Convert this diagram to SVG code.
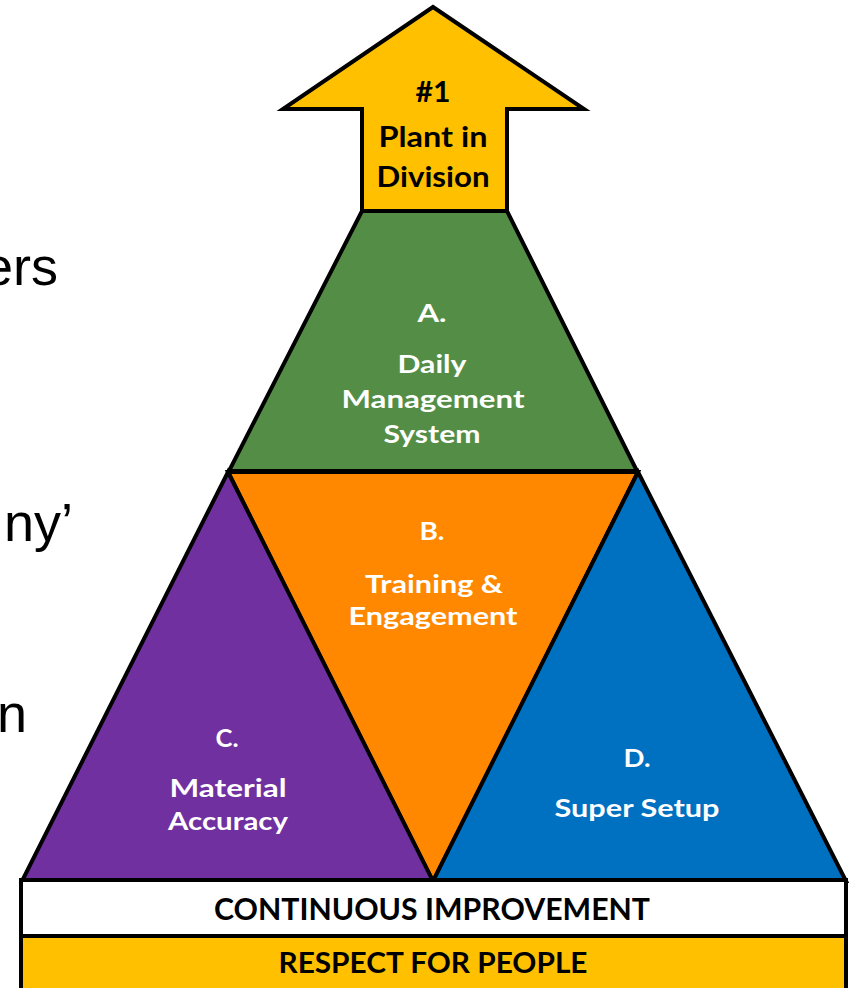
<svg xmlns="http://www.w3.org/2000/svg" width="850" height="988" viewBox="0 0 850 988">
<style>
.shape{stroke:#000;stroke-width:4;stroke-linejoin:miter}
.lbl{font-family:Lato,"Open Sans","Liberation Sans",sans-serif;font-weight:bold;text-anchor:middle}
.w{fill:#fff}
.k{fill:#000}
.side{font-family:"Liberation Sans",Arial,sans-serif;font-size:54px;fill:#000;text-anchor:end}
</style>
<rect width="850" height="988" fill="#fff"/>
<g id="side-text">
<text class="side" x="58" y="285">ers</text>
<text class="side" x="73" y="541">ny’</text>
<text class="side" x="27" y="732">n</text>
</g>
<g id="goal-arrow">
<polygon class="shape" fill="#FFC000" points="433,7 584,109 507,109 507,211 362,211 362,109 283,109"/>
<text class="lbl k" x="433" y="102" font-size="28" textLength="35" lengthAdjust="spacingAndGlyphs">#1</text>
<text class="lbl k" x="433" y="147" font-size="29" textLength="109" lengthAdjust="spacingAndGlyphs">Plant in</text>
<text class="lbl k" x="433" y="187" font-size="29" textLength="113" lengthAdjust="spacingAndGlyphs">Division</text>
</g>
<g id="node-a">
<polygon class="shape" fill="#548E46" points="362,211 507,211 637,471 229,471"/>
<text class="lbl w" x="432" y="322" font-size="25" textLength="29" lengthAdjust="spacingAndGlyphs">A.</text>
<text class="lbl w" x="432" y="373" font-size="25" textLength="69" lengthAdjust="spacingAndGlyphs">Daily</text>
<text class="lbl w" x="433" y="408" font-size="25" textLength="183" lengthAdjust="spacingAndGlyphs">Management</text>
<text class="lbl w" x="432" y="443" font-size="25" textLength="97" lengthAdjust="spacingAndGlyphs">System</text>
</g>
<g id="node-b">
<polygon class="shape" fill="#FF8800" points="228,472 638,472 433,882"/>
<text class="lbl w" x="432" y="540" font-size="25" textLength="25" lengthAdjust="spacingAndGlyphs">B.</text>
<text class="lbl w" x="434" y="593" font-size="25" textLength="138" lengthAdjust="spacingAndGlyphs">Training &amp;</text>
<text class="lbl w" x="433" y="625" font-size="25" textLength="169" lengthAdjust="spacingAndGlyphs">Engagement</text>
</g>
<g id="node-c">
<polygon class="shape" fill="#7030A0" points="228,472 433,881 22,881"/>
<text class="lbl w" x="227" y="747" font-size="25" textLength="23" lengthAdjust="spacingAndGlyphs">C.</text>
<text class="lbl w" x="228" y="797" font-size="25" textLength="117" lengthAdjust="spacingAndGlyphs">Material</text>
<text class="lbl w" x="228" y="830" font-size="25" textLength="120" lengthAdjust="spacingAndGlyphs">Accuracy</text>
</g>
<g id="node-d">
<polygon class="shape" fill="#0070C0" points="638,472 846,881 433,881"/>
<text class="lbl w" x="637" y="767" font-size="25" textLength="27" lengthAdjust="spacingAndGlyphs">D.</text>
<text class="lbl w" x="637" y="817" font-size="25" textLength="165" lengthAdjust="spacingAndGlyphs">Super Setup</text>
</g>
<g id="base-ci">
<rect class="shape" fill="#fff" x="21" y="880" width="825" height="56" stroke-width="3"/>
<text class="lbl k" x="432" y="920" font-size="30" textLength="436" lengthAdjust="spacingAndGlyphs">CONTINUOUS IMPROVEMENT</text>
</g>
<g id="base-rfp">
<rect class="shape" fill="#FFC000" x="21" y="936" width="825" height="60" stroke-width="3"/>
<text class="lbl k" x="433" y="973" font-size="29" textLength="309" lengthAdjust="spacingAndGlyphs">RESPECT FOR PEOPLE</text>
</g>
<g id="connectors"></g>
</svg>
